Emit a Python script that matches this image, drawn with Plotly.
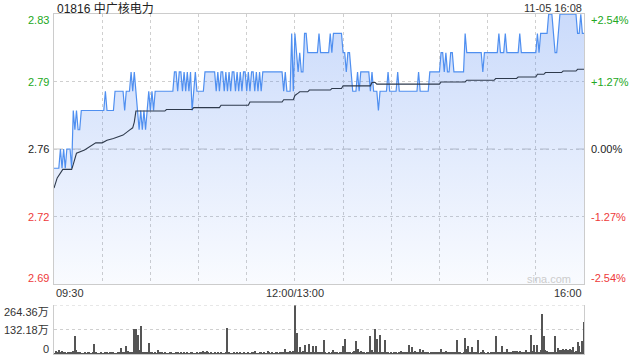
import plotly.graph_objects as go

# ---------------- data ----------------
title_text = "01816 中广核电力"
stamp_text = "11-05 16:08"
prev_close = 2.76
pct_step = 0.0127

# minute-by-minute last price (09:30 .. 16:00)
price = [
    2.75, 2.75, 2.75, 2.75, 2.76, 2.75, 2.76, 2.75, 2.76, 2.76,
    2.76, 2.75, 2.78, 2.77, 2.78, 2.77, 2.77, 2.78, 2.78, 2.78,
    2.78, 2.78, 2.78, 2.78, 2.78, 2.78, 2.78, 2.78, 2.78, 2.78,
    2.78, 2.78, 2.79, 2.78, 2.78, 2.78, 2.78, 2.78, 2.79, 2.79,
    2.79, 2.79, 2.79, 2.79, 2.78, 2.79, 2.79, 2.79, 2.80, 2.79,
    2.80, 2.79, 2.78, 2.77, 2.78, 2.77, 2.78, 2.77, 2.78, 2.79,
    2.78, 2.79, 2.78, 2.79, 2.79, 2.79, 2.79, 2.79, 2.79, 2.79,
    2.79, 2.79, 2.79, 2.79, 2.79, 2.80, 2.80, 2.79, 2.80, 2.80,
    2.79, 2.80, 2.79, 2.80, 2.79, 2.80, 2.78, 2.79, 2.80, 2.79,
    2.79, 2.79, 2.79, 2.79, 2.80, 2.80, 2.80, 2.80, 2.80, 2.80,
    2.80, 2.79, 2.80, 2.79, 2.80, 2.80, 2.79, 2.80, 2.79, 2.80,
    2.79, 2.80, 2.80, 2.79, 2.80, 2.79, 2.80, 2.79, 2.80, 2.80,
    2.79, 2.80, 2.79, 2.80, 2.80, 2.79, 2.80, 2.79, 2.80, 2.79,
    2.80, 2.80, 2.80, 2.80, 2.80, 2.80, 2.80, 2.80, 2.80, 2.80,
    2.80, 2.80, 2.80, 2.79, 2.80, 2.79, 2.79, 2.79, 2.82, 2.79,
    2.82, 2.81, 2.80, 2.81, 2.80, 2.80, 2.82, 2.82, 2.81, 2.81,
    2.81, 2.81, 2.81, 2.81, 2.81, 2.82, 2.81, 2.81, 2.81, 2.81,
    2.81, 2.81, 2.82, 2.81, 2.82, 2.82, 2.82, 2.82, 2.82, 2.82,
    2.81, 2.81, 2.80, 2.81, 2.81, 2.80, 2.79, 2.79, 2.79, 2.80,
    2.79, 2.80, 2.80, 2.80, 2.80, 2.80, 2.80, 2.79, 2.80, 2.79,
    2.79, 2.79, 2.78, 2.79, 2.79, 2.79, 2.79, 2.79, 2.80, 2.79,
    2.79, 2.79, 2.79, 2.79, 2.80, 2.79, 2.79, 2.79, 2.79, 2.79,
    2.79, 2.79, 2.79, 2.79, 2.79, 2.79, 2.79, 2.80, 2.79, 2.79,
    2.79, 2.79, 2.79, 2.79, 2.80, 2.80, 2.80, 2.80, 2.80, 2.80,
    2.80, 2.81, 2.81, 2.80, 2.81, 2.80, 2.80, 2.81, 2.81, 2.80,
    2.80, 2.80, 2.80, 2.80, 2.80, 2.80, 2.82, 2.81, 2.81, 2.81,
    2.81, 2.81, 2.81, 2.81, 2.81, 2.81, 2.81, 2.80, 2.81, 2.81,
    2.81, 2.81, 2.81, 2.81, 2.81, 2.81, 2.81, 2.82, 2.81, 2.81,
    2.81, 2.82, 2.81, 2.81, 2.81, 2.81, 2.81, 2.81, 2.81, 2.81,
    2.82, 2.81, 2.81, 2.81, 2.81, 2.81, 2.81, 2.81, 2.81, 2.81,
    2.81, 2.82, 2.81, 2.82, 2.82, 2.82, 2.82, 2.82, 2.83, 2.83,
    2.83, 2.82, 2.81, 2.81, 2.82, 2.83, 2.83, 2.83, 2.83, 2.83,
    2.83, 2.83, 2.83, 2.83, 2.83, 2.83, 2.82, 2.82, 2.83, 2.82,
    2.82,
]

# average-price line, read at its turning points (minute index, price)
avg_minute = [0, 2, 5.5, 11, 12, 14, 19, 22, 26, 30, 33, 37, 43, 47, 49, 50, 51,
              69, 70, 86, 87, 103, 104, 121, 122, 142, 143, 149, 150, 152, 153,
              158, 159, 172, 173, 179, 180, 197, 198, 200, 201, 240, 241, 256,
              257, 274, 275, 288, 289, 300, 301, 305, 306, 316, 317, 325, 326, 330]
avg_price = [2.7397, 2.7450, 2.7494, 2.7494, 2.7520, 2.7578, 2.7595, 2.7612,
             2.7632, 2.7632, 2.7645, 2.7655, 2.7672, 2.7698, 2.7710, 2.7740,
             2.7797, 2.7797, 2.7805, 2.7805, 2.7815, 2.7815, 2.7827, 2.7827,
             2.7844, 2.7844, 2.7856, 2.7856, 2.7878, 2.7890, 2.7897, 2.7897,
             2.7906, 2.7906, 2.7914, 2.7914, 2.7928, 2.7928, 2.7945, 2.7945,
             2.7937, 2.7937, 2.7948, 2.7948, 2.7957, 2.7957, 2.7966, 2.7966,
             2.7974, 2.7974, 2.7988, 2.7988, 2.7997, 2.7997, 2.8005, 2.8005,
             2.8014, 2.8014]

# minute volume, in 万 shares
volume = [
    4, 18, 12, 22, 8, 15, 6, 10, 5, 7,
    9, 6, 14, 99, 20, 6, 8, 5, 4, 7,
    5, 9, 6, 4, 8, 56, 7, 5, 3, 6,
    4, 5, 9, 6, 4, 8, 12, 6, 5, 4,
    7, 10, 32, 9, 6, 41, 18, 7, 12, 9,
    135, 135, 104, 20, 150, 12, 8, 6, 9, 59,
    10, 6, 4, 8, 5, 23, 9, 6, 4, 7,
    5, 3, 6, 8, 4, 5, 10, 6, 4, 7,
    5, 8, 3, 6, 4, 9, 7, 5, 3, 6,
    4, 6, 12, 15, 9, 16, 7, 5, 8, 4,
    6, 5, 9, 4, 7, 5, 3, 6, 140, 8,
    5, 4, 7, 3, 6, 5, 8, 4, 6, 3,
    5, 7, 4, 9, 6, 15, 5, 4, 7, 6,
    4, 8, 5, 18, 6, 4, 7, 5, 10, 6,
    4, 8, 12, 6, 25, 7, 10, 14, 9, 18,
    264.36, 113, 12, 36, 8, 15, 50, 10, 12, 56,
    9, 45, 8, 41, 12, 6, 10, 8, 77, 6,
    5, 9, 4, 7, 20, 6, 10, 5, 8, 12,
    41, 83, 9, 6, 12, 5, 8, 15, 68, 27,
    10, 15, 6, 8, 5, 10, 12, 99, 22, 9,
    137, 83, 10, 104, 8, 12, 74, 9, 6, 5,
    8, 4, 12, 6, 5, 10, 18, 7, 12, 8,
    6, 50, 10, 38, 7, 15, 9, 12, 27, 10,
    20, 6, 8, 12, 5, 9, 7, 10, 6, 8,
    12, 27, 9, 6, 15, 8, 11, 7, 10, 13,
    9, 74, 6, 8, 5, 10, 86, 27, 45, 8,
    38, 12, 6, 9, 74, 5, 8, 20, 6, 4,
    7, 5, 9, 6, 10, 95, 8, 12, 6, 45,
    7, 10, 27, 6, 9, 12, 16, 14, 16, 12,
    16, 8, 6, 10, 20, 7, 12, 104, 15, 50,
    10, 50, 8, 20, 217, 99, 20, 15, 9, 12,
    8, 6, 95, 10, 32, 24, 22, 26, 23, 27,
    22, 25, 20, 38, 12, 18, 65, 45, 10, 72,
    171,
]

price_tick_labels = ["2.83", "2.79", "2.76", "2.72", "2.69"]
pct_tick_labels = ["+2.54%", "+1.27%", "0.00%", "-1.27%", "-2.54%"]
tick_steps = [2, 1, 0, -1, -2]
vol_tick_values = [264.36, 132.18, 0]
vol_tick_labels = ["264.36万", "132.18万", "0"]
time_tick_minutes = [0, 150, 330]
time_tick_labels = ["09:30", "12:00/13:00", "16:00"]

# ---------------- styling ----------------
FONT = "Liberation Sans, Arial, Noto Sans CJK SC, sans-serif"
GREEN = "#22a822"
RED = "#ee3a3a"
DARK = "#222222"
GRID = "#cfcfcf"
BORDER = "#cccccc"

minutes = list(range(len(price)))
vol_minutes = list(range(len(volume)))
tick_values = [prev_close * (1 + k * pct_step) for k in tick_steps]
y_lo, y_hi = min(tick_values), max(tick_values)

fig = go.Figure()

fig.add_trace(go.Scatter(
    x=minutes, y=price, mode="lines",
    line=dict(color="#4f8ff0", width=1.2),
    fill="tozeroy",
    fillgradient=dict(type="vertical", start=y_lo, stop=y_hi,
                      colorscale=[[0, "rgba(60,120,240,0.03)"],
                                  [1, "rgba(60,120,240,0.27)"]]),
    hoverinfo="skip", xaxis="x", yaxis="y",
))
fig.add_trace(go.Scatter(
    x=avg_minute, y=avg_price, mode="lines",
    line=dict(color="#2e3a4c", width=1.1),
    hoverinfo="skip", xaxis="x", yaxis="y",
))
fig.add_trace(go.Bar(
    x=vol_minutes, y=volume, width=0.62,
    marker=dict(color="#555555", line=dict(width=0)),
    hoverinfo="skip", xaxis="x2", yaxis="y2",
))

price_dom = [(354 - 284) / 340, 1.0]
vol_dom = [0.0, (354 - 305) / 340]

fig.update_layout(
    width=640, height=360,
    margin=dict(l=54, r=56, t=14, b=6),
    paper_bgcolor="white", plot_bgcolor="rgba(0,0,0,0)",
    showlegend=False, bargap=0,
    font=dict(family=FONT, size=11, color=DARK),
    xaxis=dict(domain=[0, 1], anchor="y", range=[0, 330],
               tickvals=list(range(0, 331, 30)), showticklabels=False, ticks="",
               showgrid=True, gridcolor=GRID, griddash="dot", gridwidth=1,
               showline=True, mirror=True, linecolor=BORDER, zeroline=False),
    yaxis=dict(domain=price_dom, anchor="x", range=[y_lo, y_hi],
               tickvals=tick_values, showticklabels=False, ticks="",
               showgrid=True, gridcolor=GRID, griddash="dot", gridwidth=1,
               showline=True, mirror=True, linecolor=BORDER, zeroline=False),
    xaxis2=dict(domain=[0, 1], anchor="y2", range=[0, 330], matches="x",
                showticklabels=False, ticks="", showgrid=False,
                showline=True, mirror=False, linecolor=BORDER, zeroline=False),
    yaxis2=dict(domain=vol_dom, anchor="x2", range=[0, vol_tick_values[0]],
                tickvals=vol_tick_values[:2], showticklabels=False, ticks="",
                showgrid=True, gridcolor=GRID, griddash="dot", gridwidth=1,
                showline=True, mirror=True, linecolor=BORDER, zeroline=False),
)

# dashed previous-close line
fig.add_shape(type="line", xref="x domain", yref="y", x0=0, x1=1,
              y0=prev_close, y1=prev_close, layer="below",
              line=dict(color="#c4c4c4", width=1, dash="dash"))
# top dotted line of the volume panel
fig.add_shape(type="line", xref="x2 domain", yref="y2", x0=0, x1=1,
              y0=vol_tick_values[0], y1=vol_tick_values[0],
              line=dict(color=GRID, width=1, dash="dot"))

def label_color(k):
    return GREEN if k > 0 else (RED if k < 0 else DARK)

n = len(tick_values)
for i, (v, k) in enumerate(zip(tick_values, tick_steps)):
    shift = -6 if i == 0 else (6 if i == n - 1 else 0)
    c = label_color(k)
    fig.add_annotation(xref="paper", yref="y", x=0, y=v, text=price_tick_labels[i],
                       xanchor="right", yanchor="middle", xshift=-3, yshift=shift,
                       showarrow=False, font=dict(size=11, color=c))
    fig.add_annotation(xref="paper", yref="y", x=1, y=v, text=pct_tick_labels[i],
                       xanchor="left", yanchor="middle", xshift=5, yshift=shift,
                       showarrow=False, font=dict(size=11, color=c))

anchors = ["left", "center", "right"]
for m, t, a in zip(time_tick_minutes, time_tick_labels, anchors):
    fig.add_annotation(xref="x", yref="y domain", x=m, y=0, text=t,
                       xanchor=a, yanchor="middle", yshift=-9,
                       showarrow=False, font=dict(size=11, color="#333333"))

vol_shifts = [-7, 0, 5]
for v, t, s in zip(vol_tick_values, vol_tick_labels, vol_shifts):
    fig.add_annotation(xref="paper", yref="y2", x=0, y=v, text=t,
                       xanchor="right", yanchor="middle", xshift=-3, yshift=s,
                       showarrow=False, font=dict(size=11, color="#333333"))

fig.add_annotation(xref="paper", yref="paper", x=0, y=1, text=title_text,
                   xanchor="left", yanchor="middle", yshift=6, xshift=1,
                   showarrow=False, font=dict(size=12, color="#222222"))
fig.add_annotation(xref="paper", yref="paper", x=1, y=1, text=stamp_text,
                   xanchor="right", yanchor="middle", yshift=6,
                   showarrow=False, font=dict(size=11, color="#333333"))
fig.add_annotation(xref="paper", yref="y domain", x=1, y=0, text="sina.com",
                   xanchor="right", yanchor="middle", xshift=-11, yshift=5,
                   showarrow=False, font=dict(size=11, color="#cccccc"))

fig.write_html("out.html")
